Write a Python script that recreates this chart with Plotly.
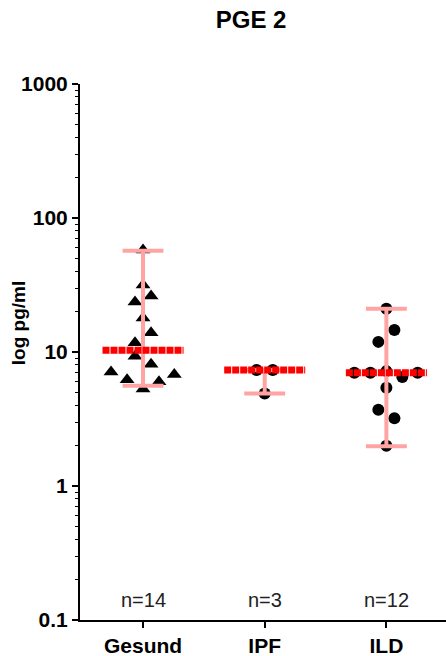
import plotly.graph_objects as go

categories = ["Gesund", "IPF", "ILD"]
n_labels = ["n=14", "n=3", "n=12"]

gesund_values = [57.7, 31.6, 23.6, 26.2, 17.9, 13.9, 11.7, 9.3, 8.1, 7.1, 6.8, 6.2, 6.0, 5.3]
gesund_jitter = [0.0, 0.0, -0.066, 0.066, 0.0, 0.066, -0.066, -0.066, 0.066, -0.263, 0.257, -0.131, 0.131, 0.0]

ipf_values = [7.35, 7.35, 4.9]
ipf_jitter = [-0.066, 0.066, 0.0]

ild_values = [21.0, 14.6, 11.9, 7.0, 7.0, 7.2, 6.5, 7.0, 5.4, 3.7, 3.2, 2.0]
ild_jitter = [0.0, 0.066, -0.066, -0.263, -0.131, 0.0, 0.131, 0.257, 0.0, -0.066, 0.066, 0.0]

medians = [10.3, 7.35, 7.0]
whisker_low = [5.6, 4.9, 1.98]
whisker_high = [57.0, 7.35, 21.0]

groups = [
    (gesund_values, gesund_jitter, "triangle-up", 13),
    (ipf_values, ipf_jitter, "circle", 12),
    (ild_values, ild_jitter, "circle", 12),
]

FONT = "Liberation Sans, Arial"

fig = go.Figure()

for i, (vals, jit, sym, sz) in enumerate(groups):
    fig.add_trace(go.Scatter(
        x=[i + j for j in jit], y=vals, mode="markers",
        marker=dict(symbol=sym, size=sz, color="black", line=dict(width=0)),
        showlegend=False, hoverinfo="skip"))

pink = "#ffa3a3"
for i in range(len(categories)):
    fig.add_trace(go.Scatter(x=[i, i], y=[whisker_low[i], whisker_high[i]], mode="lines",
                             line=dict(color=pink, width=4), showlegend=False, hoverinfo="skip"))
    for v in (whisker_low[i], whisker_high[i]):
        fig.add_trace(go.Scatter(x=[i - 0.168, i + 0.168], y=[v, v], mode="lines",
                                 line=dict(color=pink, width=4), showlegend=False, hoverinfo="skip"))

for i in range(len(categories)):
    fig.add_trace(go.Scatter(x=[i - 0.333, i + 0.333], y=[medians[i], medians[i]], mode="lines",
                             line=dict(color="#ff0000", width=7, dash="7px,1px"),
                             showlegend=False, hoverinfo="skip"))

for i, t in enumerate(n_labels):
    fig.add_annotation(x=i, y=-0.85, xref="x", yref="y", text=t, showarrow=False,
                       font=dict(family=FONT, size=20, color="#222"))

fig.add_annotation(x=-0.169, y=0.554, xref="paper", yref="paper", text="<b>log pg/ml</b>",
                   textangle=-90, showarrow=False, xanchor="center", yanchor="middle",
                   font=dict(family=FONT, size=19, color="black"))

fig.update_layout(
    width=446, height=656,
    margin=dict(l=80, r=0, t=84, b=36),
    paper_bgcolor="white", plot_bgcolor="white",
    title=dict(text="<b>PGE 2</b>", x=0.563, xanchor="center", y=1 - 20 / 656, yanchor="middle",
               font=dict(family=FONT, size=24, color="black")),
    font=dict(family=FONT, color="black"),
)

fig.update_xaxes(
    range=[-0.518, 2.49], automargin=False,
    tickmode="array", tickvals=list(range(len(categories))),
    ticktext=[f"<b>{c}</b>" for c in categories],
    tickfont=dict(size=21, color="black"),
    showline=True, linecolor="black", linewidth=2,
    ticks="outside", ticklen=6, tickwidth=2, tickcolor="black",
    showgrid=False, zeroline=False,
)

fig.update_yaxes(
    type="log", range=[-1, 3], automargin=False,
    tickmode="array", tickvals=[0.1, 1, 10, 100, 1000],
    ticktext=["<b>0.1</b>", "<b>1</b>", "<b>10</b>", "<b>100</b>", "<b>1000</b>"],
    tickfont=dict(size=21, color="black"),
    showline=True, linecolor="black", linewidth=2,
    ticks="outside", ticklen=6, tickwidth=2, tickcolor="black",
    minor=dict(ticks="outside", ticklen=3, tickwidth=1, tickcolor="black",
               tickvals=[m * 10.0 ** e for e in range(-1, 3) for m in range(2, 10)]),
    showgrid=False, zeroline=False,
)

fig.write_html("out.html", config={"displayModeBar": False},
               post_script="document.body.style.margin='0';document.body.style.padding='0';")
